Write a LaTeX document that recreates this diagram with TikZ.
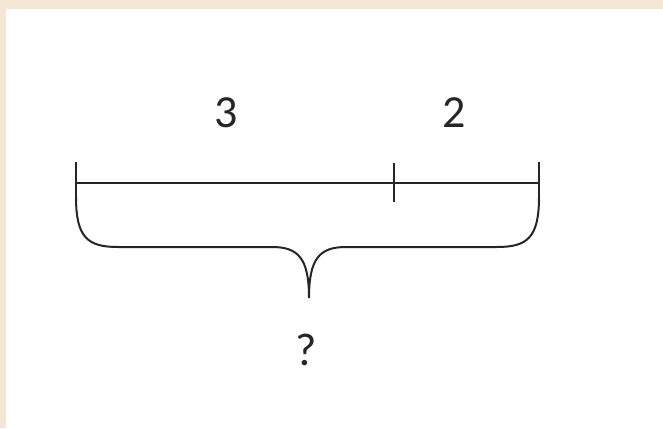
\documentclass[tikz,border=0pt]{standalone}
\usepackage{fontspec}
\setmainfont{Carlito}
\usepackage{tikz}
\usetikzlibrary{calc}

\definecolor{pagebeige}{HTML}{F4E7D6}

\begin{document}
\begin{tikzpicture}[
    x=1pt, y=-1pt,
    every node/.style={inner sep=0pt, font=\fontsize{46}{54}\selectfont, text=black!85},
    segline/.style={line width=2.4pt, black!85},
    tickline/.style={line width=2pt, black!85},
    braceline/.style={line width=2pt, black!85}
]
    % page background
    \fill[pagebeige] (0,0) rectangle (663,428);
    \fill[white] (6,9) rectangle (663,428);
    \useasboundingbox (0,0) rectangle (663,428);

    % number line points
    \coordinate (start) at (76,183);
    \coordinate (split) at (394,183);
    \coordinate (end) at (539,183);

    \draw[segline] (start) -- (end);
    \draw[tickline] ($(start)+(0,-21)$) -- ($(start)+(0,15)$);
    \draw[tickline] ($(split)+(0,-20)$) -- ($(split)+(0,19)$);
    \draw[tickline] ($(end)+(0,-21)$) -- ($(end)+(0,15)$);

    % part labels
    \node (three) at (226,113) {3};
    \node (two) at (454,113) {2};

    % brace under the whole
    \coordinate (tip) at (309,298);
    \draw[braceline] ($(start)+(0,14)$) .. controls (76,238) and (88,247) .. (118,247)
        -- (272,247) .. controls (298,247) and (309,258) .. (tip)
        .. controls (309,258) and (320,247) .. (346,247)
        -- (497,247) .. controls (527,247) and (539,238) .. ($(end)+(0,14)$);

    \node (whole) at (306,350) {?};
\end{tikzpicture}
\end{document}
